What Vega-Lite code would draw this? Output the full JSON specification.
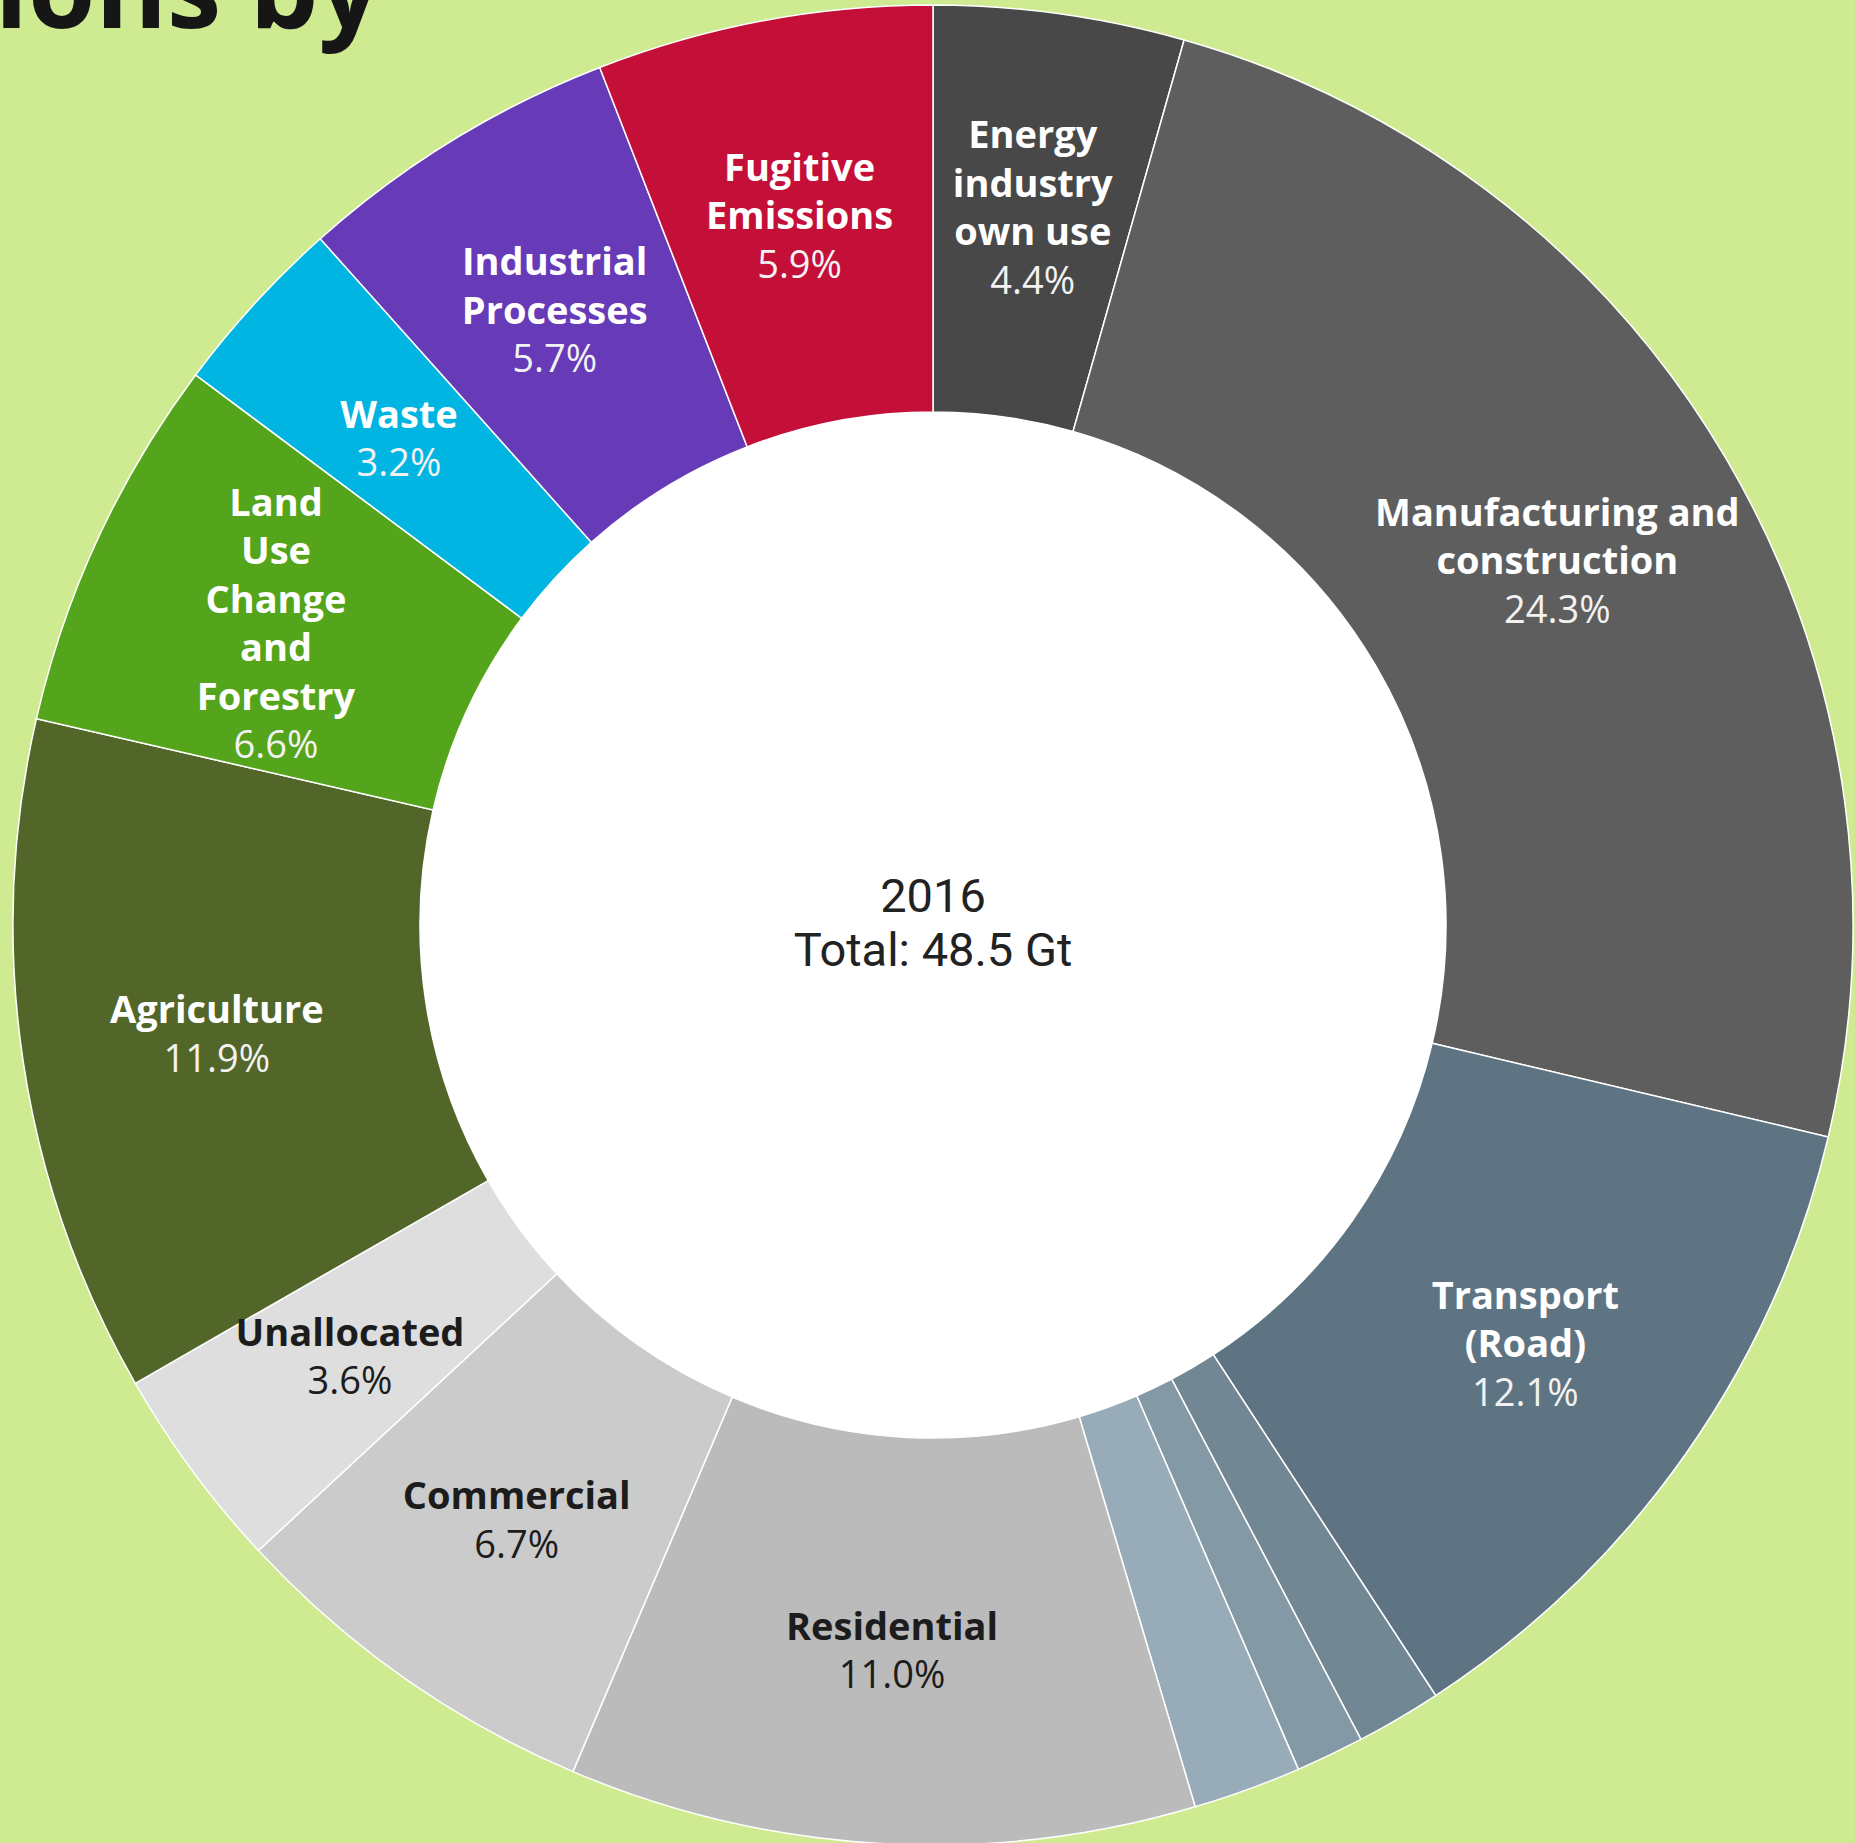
{
  "$schema": "https://vega.github.io/schema/vega-lite/v6.json",
  "width": 1844,
  "height": 1836,
  "padding": {"left": 11, "top": 7, "right": 0, "bottom": 0},
  "autosize": {"type": "none"},
  "background": "#cfeb91",
  "config": {"view": {"stroke": null}},
  "title": {
    "text": "Emissions by",
    "anchor": "start",
    "frame": "group",
    "orient": "top",
    "font": "Open Sans",
    "fontSize": 109,
    "fontWeight": "bold",
    "color": "#161616",
    "baseline": "alphabetic",
    "offset": -135,
    "dx": -326
  },
  "datasets": {
    "sectors": [
      {"idx": 1, "sector": "Energy industry own use", "share": 4.4, "label": "Energy\nindustry\nown use", "pct": "4.4%"},
      {"idx": 2, "sector": "Manufacturing and construction", "share": 24.3, "label": "Manufacturing and\nconstruction", "pct": "24.3%"},
      {"idx": 3, "sector": "Transport (Road)", "share": 12.1, "label": "Transport\n(Road)", "pct": "12.1%"},
      {"idx": 4, "sector": "Transport (Other)", "share": 1.5, "label": "", "pct": ""},
      {"idx": 5, "sector": "Transport (Shipping)", "share": 1.2, "label": "", "pct": ""},
      {"idx": 6, "sector": "Transport (Aviation)", "share": 1.9, "label": "", "pct": ""},
      {"idx": 7, "sector": "Residential", "share": 11.0, "label": "Residential", "pct": "11.0%"},
      {"idx": 8, "sector": "Commercial", "share": 6.7, "label": "Commercial", "pct": "6.7%"},
      {"idx": 9, "sector": "Unallocated", "share": 3.6, "label": "Unallocated", "pct": "3.6%"},
      {"idx": 10, "sector": "Agriculture", "share": 11.9, "label": "Agriculture", "pct": "11.9%"},
      {"idx": 11, "sector": "Land Use Change and Forestry", "share": 6.6, "label": "Land\nUse\nChange\nand\nForestry", "pct": "6.6%"},
      {"idx": 12, "sector": "Waste", "share": 3.2, "label": "Waste", "pct": "3.2%"},
      {"idx": 13, "sector": "Industrial Processes", "share": 5.7, "label": "Industrial\nProcesses", "pct": "5.7%"},
      {"idx": 14, "sector": "Fugitive Emissions", "share": 5.9, "label": "Fugitive\nEmissions", "pct": "5.9%"}
    ],
    "centre": [{"line": "2016\nTotal: 48.5 Gt"}]
  },
  "layer": [
    {
      "data": {"name": "sectors"},
      "mark": {"type": "arc", "radius": 920, "radius2": 513, "stroke": "#ffffff", "strokeWidth": 1.5},
      "encoding": {
        "theta": {"field": "share", "type": "quantitative", "stack": true},
        "order": {"field": "idx", "type": "quantitative"},
        "color": {
          "field": "sector",
          "type": "nominal",
          "legend": null,
          "scale": {
            "domain": ["Energy industry own use", "Manufacturing and construction", "Transport (Road)", "Transport (Other)", "Transport (Shipping)", "Transport (Aviation)", "Residential", "Commercial", "Unallocated", "Agriculture", "Land Use Change and Forestry", "Waste", "Industrial Processes", "Fugitive Emissions"],
            "range": ["#484848", "#5e5e5e", "#5f7482", "#718794", "#8499a6", "#97abb9", "#bbbbbb", "#cbcbcb", "#dedede", "#52662a", "#55a51c", "#00b5e2", "#673ab7", "#c41039"]
          }
        }
      }
    },
    {
      "data": {"name": "centre"},
      "mark": {"type": "arc", "radius": 513, "radius2": 0, "theta": 0, "theta2": 6.2832, "color": "#ffffff"},
      "encoding": {}
    },
    {
      "data": {"name": "sectors"},
      "mark": {"type": "text", "radius": 724, "font": "Open Sans", "fontSize": 38, "fontWeight": "bold", "lineHeight": 48.5, "lineBreak": "\n", "align": "center", "baseline": "middle", "dy": -19.25},
      "encoding": {
        "theta": {"field": "share", "type": "quantitative", "stack": true},
        "order": {"field": "idx", "type": "quantitative"},
        "text": {"condition": {"test": "indexof(['Residential','Commercial','Unallocated','Agriculture','Waste'], datum.sector) >= 0", "field": "label"}, "value": ""},
        "color": {"condition": {"test": "indexof(['Residential','Commercial','Unallocated'], datum.sector) >= 0", "value": "#1c1c1c"}, "value": "#ffffff"}
      }
    },
    {
      "data": {"name": "sectors"},
      "mark": {"type": "text", "radius": 724, "font": "Open Sans", "fontSize": 38, "fontWeight": "normal", "align": "center", "baseline": "middle", "dy": 29.25},
      "encoding": {
        "theta": {"field": "share", "type": "quantitative", "stack": true},
        "order": {"field": "idx", "type": "quantitative"},
        "text": {"condition": {"test": "indexof(['Residential','Commercial','Unallocated','Agriculture','Waste'], datum.sector) >= 0", "field": "pct"}, "value": ""},
        "color": {"condition": {"test": "indexof(['Residential','Commercial','Unallocated'], datum.sector) >= 0", "value": "#1c1c1c"}, "value": "#f2f2f2"}
      }
    },
    {
      "data": {"name": "sectors"},
      "mark": {"type": "text", "radius": 724, "font": "Open Sans", "fontSize": 38, "fontWeight": "bold", "lineHeight": 48.5, "lineBreak": "\n", "align": "center", "baseline": "middle", "dy": -43.5, "color": "#ffffff"},
      "encoding": {
        "theta": {"field": "share", "type": "quantitative", "stack": true},
        "order": {"field": "idx", "type": "quantitative"},
        "text": {"condition": {"test": "indexof(['Manufacturing and construction','Transport (Road)','Industrial Processes','Fugitive Emissions'], datum.sector) >= 0", "field": "label"}, "value": ""}
      }
    },
    {
      "data": {"name": "sectors"},
      "mark": {"type": "text", "radius": 724, "font": "Open Sans", "fontSize": 38, "fontWeight": "normal", "align": "center", "baseline": "middle", "dy": 53.5, "color": "#f2f2f2"},
      "encoding": {
        "theta": {"field": "share", "type": "quantitative", "stack": true},
        "order": {"field": "idx", "type": "quantitative"},
        "text": {"condition": {"test": "indexof(['Manufacturing and construction','Transport (Road)','Industrial Processes','Fugitive Emissions'], datum.sector) >= 0", "field": "pct"}, "value": ""}
      }
    },
    {
      "data": {"name": "sectors"},
      "mark": {"type": "text", "radius": 724, "font": "Open Sans", "fontSize": 38, "fontWeight": "bold", "lineHeight": 48.5, "lineBreak": "\n", "align": "center", "baseline": "middle", "dy": -70.75, "color": "#ffffff"},
      "encoding": {
        "theta": {"field": "share", "type": "quantitative", "stack": true},
        "order": {"field": "idx", "type": "quantitative"},
        "text": {"condition": {"test": "datum.sector === 'Energy industry own use'", "field": "label"}, "value": ""}
      }
    },
    {
      "data": {"name": "sectors"},
      "mark": {"type": "text", "radius": 724, "font": "Open Sans", "fontSize": 38, "fontWeight": "normal", "align": "center", "baseline": "middle", "dy": 74.75, "color": "#f2f2f2"},
      "encoding": {
        "theta": {"field": "share", "type": "quantitative", "stack": true},
        "order": {"field": "idx", "type": "quantitative"},
        "text": {"condition": {"test": "datum.sector === 'Energy industry own use'", "field": "pct"}, "value": ""}
      }
    },
    {
      "data": {"name": "sectors"},
      "mark": {"type": "text", "radius": 724, "font": "Open Sans", "fontSize": 38, "fontWeight": "bold", "lineHeight": 48.5, "lineBreak": "\n", "align": "center", "baseline": "middle", "dy": -116.25, "color": "#ffffff"},
      "encoding": {
        "theta": {"field": "share", "type": "quantitative", "stack": true},
        "order": {"field": "idx", "type": "quantitative"},
        "text": {"condition": {"test": "datum.sector === 'Land Use Change and Forestry'", "field": "label"}, "value": ""}
      }
    },
    {
      "data": {"name": "sectors"},
      "mark": {"type": "text", "radius": 724, "font": "Open Sans", "fontSize": 38, "fontWeight": "normal", "align": "center", "baseline": "middle", "dy": 126.25, "color": "#f2f2f2"},
      "encoding": {
        "theta": {"field": "share", "type": "quantitative", "stack": true},
        "order": {"field": "idx", "type": "quantitative"},
        "text": {"condition": {"test": "datum.sector === 'Land Use Change and Forestry'", "field": "pct"}, "value": ""}
      }
    },
    {
      "data": {"name": "centre"},
      "mark": {"type": "text", "font": "Roboto", "fontSize": 47, "lineHeight": 54, "lineBreak": "\n", "align": "center", "baseline": "middle", "dy": -27, "color": "#222222"},
      "encoding": {
        "text": {"field": "line", "type": "nominal"}
      }
    }
  ]
}
